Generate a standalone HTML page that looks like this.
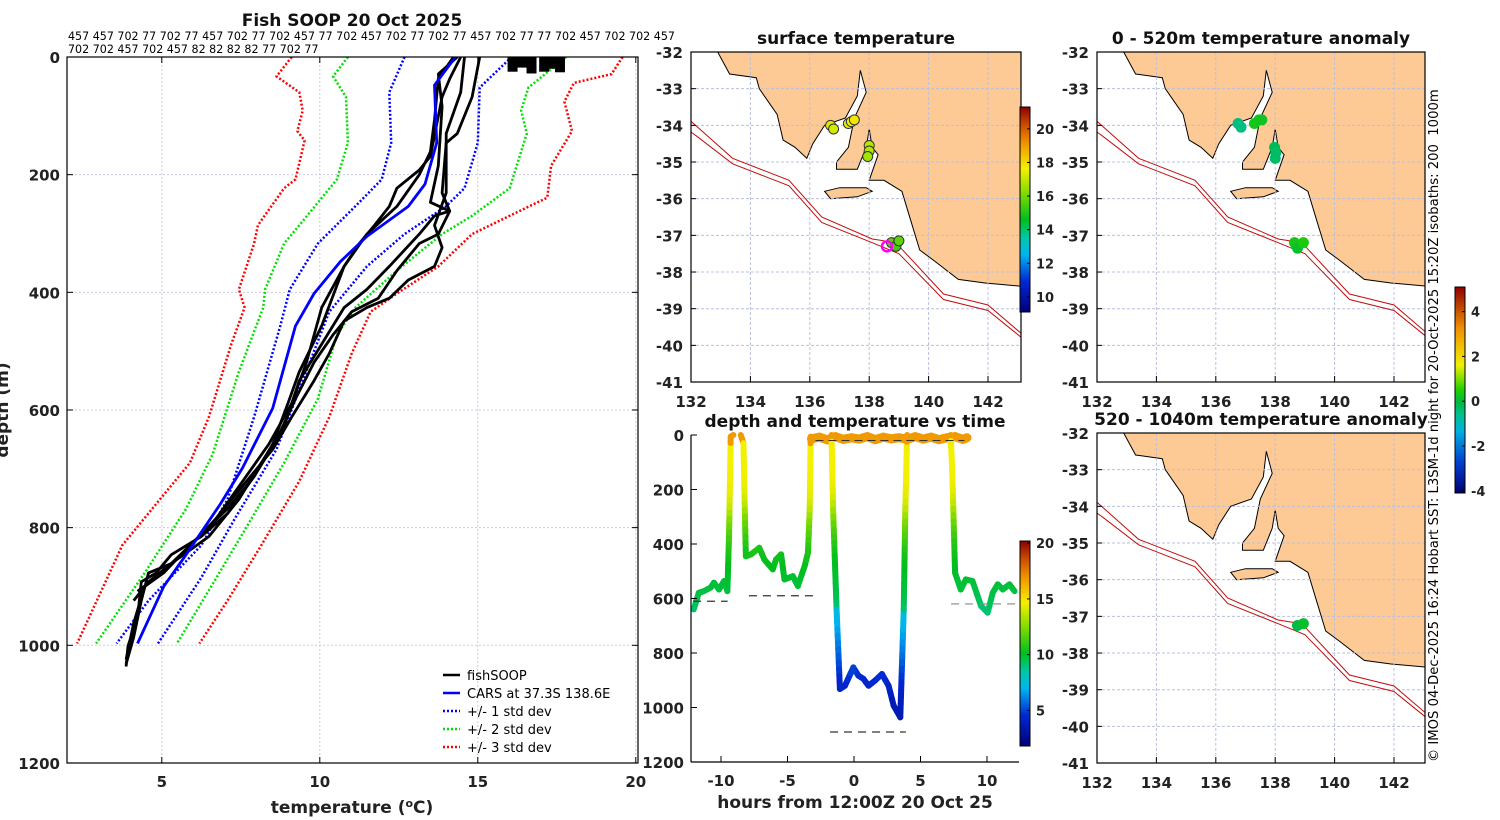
<!DOCTYPE html>
<html><head><meta charset="utf-8">
<style>
html,body{margin:0;padding:0;background:#fff;}
svg{display:block;font-family:"DejaVu Sans","Liberation Sans",sans-serif;}
.tk{font-size:15px;font-weight:bold;fill:#222;}
.ttl{font-size:17px;font-weight:bold;fill:#111;}
.pl{font-weight:normal;}
</style></head>
<body>
<svg id="fig" width="1500" height="820" viewBox="0 0 1500 820" xmlns="http://www.w3.org/2000/svg">
<defs>
<linearGradient id="jet" x1="0" y1="1" x2="0" y2="0">
<stop offset="0" stop-color="#00007a"/><stop offset="0.15" stop-color="#0028d2"/><stop offset="0.28" stop-color="#00b4f0"/><stop offset="0.36" stop-color="#00c8aa"/><stop offset="0.45" stop-color="#00be1e"/><stop offset="0.58" stop-color="#82dc00"/><stop offset="0.7" stop-color="#f5f000"/><stop offset="0.82" stop-color="#f09600"/><stop offset="0.92" stop-color="#c84600"/><stop offset="1" stop-color="#8c0000"/>
</linearGradient>
<linearGradient id="anom" x1="0" y1="1" x2="0" y2="0">
<stop offset="0" stop-color="#000070"/><stop offset="0.15" stop-color="#0040d0"/><stop offset="0.3" stop-color="#00b0e0"/><stop offset="0.38" stop-color="#00c090"/><stop offset="0.44" stop-color="#00b840"/><stop offset="0.5" stop-color="#20d000"/><stop offset="0.62" stop-color="#f0f000"/><stop offset="0.8" stop-color="#f09000"/><stop offset="1" stop-color="#900000"/>
</linearGradient>
<clipPath id="cpS"><rect x="691" y="52" width="330" height="330"/></clipPath>
<clipPath id="cpA"><rect x="1097" y="52" width="328" height="330"/></clipPath>
<clipPath id="cpB"><rect x="1097" y="433" width="328" height="330"/></clipPath>
<clipPath id="cpP"><rect x="67" y="57" width="571" height="706"/></clipPath>
<clipPath id="cpT"><rect x="691" y="430" width="328" height="332"/></clipPath>
</defs>
</svg>
<script>
// ---------- profile data (temperature degC, depth m) ----------
const carsT=[14.29,13.63,13.7,13.33,12.8,11.49,10.65,9.82,9.23,8.51,7.56,6.85,5.77,5.06,4.23];
const carsD=[0,48,146,216,254,305,348,402,457,597,698,760,846,900,997];
const sd1LT=[12.68,12.2,12.26,11.96,11.25,9.94,9.05,8.75,7.92,7.08,6.25,4.58,3.57];
const sd1LD=[0,60,146,208,247,317,395,457,612,752,830,924,997];
const sd1RT=[16.07,15.06,15.0,14.58,13.99,12.68,11.49,10.3,9.46,8.63,7.32,6.25,4.88];
const sd1RD=[0,52,146,223,254,301,356,433,550,667,784,885,997];
const sd2LT=[10.89,10.42,10.83,10.89,10.54,9.35,8.87,8.27,8.21,7.44,6.61,5.77,4.46,2.92];
const sd2LD=[0,33,68,146,208,286,317,395,426,535,675,768,877,997];
const sd2RT=[17.8,16.6,16.37,16.55,16.01,14.82,13.87,12.44,11.13,10.54,9.94,8.87,7.68,6.73,5.48];
const sd2RD=[0,52,91,130,223,270,301,363,426,472,581,690,799,885,997];
const sd3LT=[9.11,8.63,9.35,9.46,9.29,9.52,9.23,8.87,8.04,7.92,7.44,7.62,7.2,6.49,5.89,4.94,3.75,2.32];
const sd3LD=[0,33,60,91,126,142,208,223,286,317,395,426,488,612,690,752,830,997];
const sd3RT=[19.58,19.23,18.04,17.74,17.98,17.32,17.2,16.01,14.82,13.75,12.44,11.61,11.01,10.3,9.35,8.15,7.08,6.19];
const sd3RD=[0,29,44,76,126,185,239,270,301,356,402,433,504,612,721,830,924,997];
const fAT=[14.23,13.75,13.63,13.5,13.15,12.44,11.49,10.77,10.06,9.35,8.99,8.51,7.92,7.08,6.25,5.3,4.82,4.35,4.23,3.93,3.87];
const fAD=[0,37,107,161,200,254,301,356,457,535,589,658,713,776,815,846,877,892,954,1001,1036];
const fBT=[15.06,14.82,14.35,14.0,13.87,14.11,13.75,13.15,12.44,11.85,11.01,10.42,9.82,9.23,8.63,7.92,7.08,5.89,5.06,4.46,4.11,3.87];
const fBD=[0,68,130,146,231,262,301,317,363,410,433,472,519,581,651,713,768,830,877,900,962,1024];
const fCT=[14.58,14.46,14.0,14.0,13.63,13.87,13.63,12.8,12.2,11.49,10.77,10.3,9.82,9.11,8.51,7.56,6.49,5.3,4.58,4.35,4.11,3.87];
const fCD=[0,60,130,231,286,324,356,379,410,426,449,504,550,612,667,729,799,861,877,924,986,1032];
const fDT=[14.35,13.75,13.87,13.75,13.5,14.11,13.63,13.15,12.2,11.49,10.77,10.06,9.35,8.87,8.15,7.44,6.49,5.3,4.58,4.11];
const fDD=[0,29,84,185,247,262,270,301,356,395,426,488,550,628,690,752,815,861,892,924];
const fET=[14.46,14.11,13.87,13.5,13.15,12.44,12.2,11.73,11.25,10.77,10.06,9.58,9.11,8.39,7.56,6.73,5.77,4.82,4.23];
const fED=[0,37,68,169,192,223,254,286,317,356,426,519,589,658,721,784,838,885,908];
const blobT=[16.1,16.4,16.7,17.1,17.4,17.6];
const blobD=[25,18,28,25,20,26];
const profXTicks=[5,10,15,20];
const profYTicks=[0,200,400,600,800,1000,1200];
const headerLine1="457 457 702 77 702 77 457 702 77 702 457 77 702 457 702 77 702 77 457 702 77 77 702 457 702 702 457";
const headerLine2="702 702 457 702 457 82 82 82 82 77 702 77";

// ---------- depth vs time data ----------
const dtHours=[-12.05,-11.67,-11.29,-10.78,-10.53,-10.15,-9.77,-9.52,-9.39,-9.27,-9.07];
const dtDepth=[640,579,573,560,542,567,536,573,359,6,0];
const dtHours2=[-8.51,-8.31,-8.21,-8.13,-7.75,-7.12,-6.74,-6.11,-5.86,-5.48,-5.23,-4.6,-4.22,-3.71,-3.46,-3.33,-3.26];
const dtDepth2=[0,30,274,445,438,414,457,493,457,438,530,518,554,481,432,274,6];
const dtHours3=[-1.69,-1.57,-1.31,-1.06,-0.68,-0.05,0.33,0.71,1.09,1.59,2.1,2.6,2.98,3.48,3.74,3.86,3.99];
const dtDepth3=[0,274,640,932,920,853,883,895,920,901,877,920,993,1036,640,274,0];
const dtHours4=[7.27,7.4,7.6,8.03,8.41,8.91,9.55,10.05,10.43,10.81,11.19,11.69,12.07];
const dtDepth4=[0,152,506,567,530,536,627,652,579,548,567,548,573];
const surfHours=[-3.2,-2.6,-2.0,-1.4,-0.8,-0.2,0.4,1.0,1.6,2.2,2.8,3.4,4.0,4.6,5.2,5.8,6.4,7.0,7.6,8.2,8.5];
const surfDepth=[14,8,18,6,16,10,15,6,17,8,14,10,16,6,15,8,17,10,6,16,10];
const bottomStart=[-12.1,-7.9,-1.8,7.3];
const bottomEnd=[-9.5,-3.0,3.9,12.5];
const bottomDepth=[610,590,1090,620];
const dtXTicks=[-10,-5,0,5,10];
const dtYTicks=[0,200,400,600,800,1000,1200];
const dtCbTicks=[5,10,15,20];

// ---------- map data ----------
const lonTicks=[132,134,136,138,140,142];
const latTicks=[-32,-33,-34,-35,-36,-37,-38,-39,-40,-41];
const landLon=[132.9,133.3,134.2,134.3,134.9,135.1,135.5,135.9,136.1,136.5,137.2,137.6,137.7,137.9,137.5,137.3,136.9,136.9,137.6,137.9,138.0,138.1,138.3,138.0,138.5,139.1,139.4,139.7,140.2,141.0,141.9,143.3,143.3];
const landLat=[-32,-32.6,-32.7,-33.0,-33.7,-34.4,-34.6,-34.9,-34.5,-34.0,-33.8,-33.2,-32.5,-33.1,-33.8,-34.6,-35.0,-35.2,-35.2,-34.6,-34.1,-34.6,-34.8,-35.5,-35.5,-35.8,-36.6,-37.4,-37.7,-38.2,-38.3,-38.4,-32];
const kiLon=[136.5,137.0,137.9,138.1,137.6,136.7];
const kiLat=[-35.8,-35.7,-35.7,-35.8,-35.95,-36.0];
const iso1Lon=[131.6,133.4,135.3,136.4,138.1,138.9,140.5,142.0,143.3];
const iso1Lat=[-33.6,-34.9,-35.5,-36.5,-37.1,-37.2,-38.6,-38.9,-39.8];
const iso2Lon=[131.6,132.2,133.4,135.3,136.4,138.1,139.0,140.5,142.0,143.3];
const iso2Lat=[-33.95,-34.3,-35.05,-35.65,-36.65,-37.2,-37.5,-38.75,-39.05,-39.9];
const sstLon=[136.7,136.8,137.3,137.4,137.5,138.0,138.0,137.95,138.75,138.9,139.0];
const sstLat=[-34.0,-34.1,-33.95,-33.9,-33.85,-34.55,-34.7,-34.85,-37.2,-37.3,-37.15];
const sstVal=[17.3,17.2,17.4,17.6,17.8,16.9,16.8,16.6,15.6,15.4,15.7];
const anomLon=[136.75,136.85,137.3,137.45,137.55,137.98,138.02,138.0,138.65,138.75,138.95];
const anomLat=[-33.95,-34.05,-33.95,-33.85,-33.85,-34.6,-34.75,-34.9,-37.2,-37.35,-37.2];
const anomVal=[-0.5,-0.5,0.3,0.3,0.2,-0.2,-0.3,-0.3,0.3,0.1,0.4];
const anom2Lon=[138.75,138.95];
const anom2Lat=[-37.25,-37.2];
const anom2Val=[-0.1,0.1];
const sstCbTicks=[10,12,14,16,18,20];
const anomCbTicks=[-4,-2,0,2,4];

const NS="http://www.w3.org/2000/svg";
const svg=document.getElementById('fig');
function el(tag,attrs,parent){const e=document.createElementNS(NS,tag);for(const k in attrs)e.setAttribute(k,attrs[k]);(parent||svg).appendChild(e);return e;}
function txt(x,y,s,cls,anchor,parent){const t=el('text',{x:x,y:y,'class':cls===undefined?'tk':cls,'text-anchor':anchor||'middle'},parent);t.textContent=s;return t;}
function grp(name,parent){const g=el('g',{},parent);return g;}
function interp(xs,ys,v){if(v<=xs[0])return ys[0];for(let i=1;i<xs.length;i++){if(v<=xs[i]){const f=(v-xs[i-1])/(xs[i]-xs[i-1]);return ys[i-1]+f*(ys[i]-ys[i-1]);}}return ys[ys.length-1];}
function ramp(st,f){f=Math.max(0,Math.min(1,f));for(let i=1;i<st.length;i++){if(f<=st[i][0]){const a=st[i-1],b=st[i],t=(f-a[0])/(b[0]-a[0]);return 'rgb('+[0,1,2].map(k=>Math.round(a[1][k]+t*(b[1][k]-a[1][k]))).join(',')+')';}}const l=st[st.length-1][1];return 'rgb('+l.join(',')+')';}
const jetStops=[[0,[0,0,122]],[0.15,[0,40,210]],[0.28,[0,180,240]],[0.36,[0,200,170]],[0.45,[0,190,30]],[0.58,[130,220,0]],[0.7,[245,240,0]],[0.82,[240,150,0]],[0.92,[200,70,0]],[1,[140,0,0]]];
const anomStops=[[0,[0,0,112]],[0.15,[0,64,208]],[0.3,[0,176,224]],[0.38,[0,192,144]],[0.44,[0,184,64]],[0.5,[32,208,0]],[0.62,[240,240,0]],[0.8,[240,144,0]],[1,[144,0,0]]];
function jet(f){return ramp(jetStops,f);}
function anomCol(v){return ramp(anomStops,(v+4.1)/9.2);}

// =========== PROFILE PANEL ===========
const pX=t=>67+(t-2)*31.6, pY=d=>57+d*0.5883;
const gp=grp('temperature-profile-panel');
txt(352,26,'Fish SOOP 20 Oct 2025','ttl','middle',gp);
const h1=txt(68,40,headerLine1,'pl','start',gp);h1.setAttribute('style','font-size:11.1px;fill:#000');
const h2=txt(68,53,headerLine2,'pl','start',gp);h2.setAttribute('style','font-size:11.1px;fill:#000');
profXTicks.forEach(t=>{el('line',{x1:pX(t),x2:pX(t),y1:57,y2:763,stroke:'#c8cce0','stroke-width':1,'stroke-dasharray':'2,2'},gp);el('line',{x1:pX(t),x2:pX(t),y1:763,y2:757,stroke:'#000'},gp);el('line',{x1:pX(t),x2:pX(t),y1:57,y2:63,stroke:'#000'},gp);const l=txt(pX(t),787,String(t),'tk','middle',gp);});
profYTicks.forEach(d=>{el('line',{x1:67,x2:638,y1:pY(d),y2:pY(d),stroke:'#c8cce0','stroke-width':1,'stroke-dasharray':'2,2'},gp);el('line',{x1:67,x2:73,y1:pY(d),y2:pY(d),stroke:'#000'},gp);el('line',{x1:632,x2:638,y1:pY(d),y2:pY(d),stroke:'#000'},gp);const l=txt(60,pY(d)+6,String(d),'tk','end',gp);});
const xt=txt(352,813,'','tk','middle',gp);xt.setAttribute('style','font-size:17px');
xt.innerHTML='temperature (<tspan dy="-6" font-size="11">o</tspan><tspan dy="6">C)</tspan>';
const yt=txt(0,0,'depth (m)','tk','middle',gp);yt.setAttribute('transform','translate(8,410) rotate(-90)');yt.setAttribute('style','font-size:17px');
const gpc=el('g',{'clip-path':'url(#cpP)'},gp);
function pline(T,D,col,w,dash,name){const pts=T.map((t,i)=>pX(t).toFixed(1)+','+pY(D[i]).toFixed(1)).join(' ');const p=el('polyline',{points:pts,fill:'none',stroke:col,'stroke-width':w,'stroke-linejoin':'round'},gpc);if(dash)p.setAttribute('stroke-dasharray',dash);}
pline(sd3LT,sd3LD,'#ff0000',2.5,'2,2','std3-left');pline(sd3RT,sd3RD,'#ff0000',2.5,'2,2','std3-right');
pline(sd2LT,sd2LD,'#00e000',2.5,'2,2','std2-left');pline(sd2RT,sd2RD,'#00e000',2.5,'2,2','std2-right');
pline(sd1LT,sd1LD,'#0000ff',2.5,'2,2','std1-left');pline(sd1RT,sd1RD,'#0000ff',2.5,'2,2','std1-right');
pline(fAT,fAD,'#000',2.8,null,'fishsoop-profile-a');pline(fBT,fBD,'#000',2.8,null,'fishsoop-profile-b');pline(fCT,fCD,'#000',2.8,null,'fishsoop-profile-c');pline(fDT,fDD,'#000',2.8,null,'fishsoop-profile-d');pline(fET,fED,'#000',2.8,null,'fishsoop-profile-e');
blobT.forEach((t,i)=>{const r=el('rect',{x:pX(t)-5,y:pY(0),width:10,height:pY(blobD[i])-pY(0),fill:'#000'},gpc);});
pline(carsT,carsD,'#0000ff',2.8,null,'cars-climatology');
el('rect',{x:67,y:57,width:571,height:706,fill:'none',stroke:'#000','stroke-width':1.2},gp);
// legend
const lg=grp('legend',gp);
const legItems=[['fishSOOP','#000',null],['CARS at 37.3S 138.6E','#0000ff',null],['+/- 1 std dev','#0000ff','2,2'],['+/- 2 std dev','#00e000','2,2'],['+/- 3 std dev','#ff0000','2,2']];
legItems.forEach((it,i)=>{const y=675+i*18;const g=el('g',{},lg);const ln=el('line',{x1:443,x2:460,y1:y,y2:y,stroke:it[1],'stroke-width':2.5},g);if(it[2])ln.setAttribute('stroke-dasharray',it[2]);const t=txt(467,y+5,it[0],'pl','start',g);t.setAttribute('style','font-size:13px;fill:#000');});

// =========== MAPS ===========
function drawMap(x0,y0,w,clip,name,title,dLon,dLat,dCol,ring){
  const g=grp(name);
  const mx=l=>x0+(l-132)*29.7, my=a=>y0+(-32-a)*36.67;
  const t=txt(x0+w/2,y0-8,title,'ttl','middle',g);
  const c=el('g',{'clip-path':'url(#'+clip+')'},g);
  el('rect',{x:x0,y:y0,width:w,height:330,fill:'#fff'},c);
  const lp=landLon.map((l,i)=>mx(l).toFixed(1)+','+my(landLat[i]).toFixed(1)).join(' ');
  const land=el('polygon',{points:lp,fill:'#fdca96',stroke:'#000','stroke-width':1},c);
  const kp=kiLon.map((l,i)=>mx(l).toFixed(1)+','+my(kiLat[i]).toFixed(1)).join(' ');
  const ki=el('polygon',{points:kp,fill:'#fdca96',stroke:'#000','stroke-width':1},c);
  lonTicks.forEach(l=>{if(l>132)el('line',{x1:mx(l),x2:mx(l),y1:y0,y2:y0+330,stroke:'#b8c0e0','stroke-dasharray':'3,2'},c);});
  latTicks.forEach(a=>{if(a<-32&&a>-41)el('line',{x1:x0,x2:x0+w,y1:my(a),y2:my(a),stroke:'#b8c0e0','stroke-dasharray':'3,2'},c);});
  [[iso1Lon,iso1Lat,'isobath-200m'],[iso2Lon,iso2Lat,'isobath-1000m']].forEach(s=>{const p=el('polyline',{points:s[0].map((l,i)=>mx(l).toFixed(1)+','+my(s[1][i]).toFixed(1)).join(' '),fill:'none',stroke:'#c01010','stroke-width':1},c);});
  dLon.forEach((l,i)=>{const d=el('circle',{cx:mx(l),cy:my(dLat[i]),r:5,fill:dCol(i),stroke:ring?'#333':dCol(i),'stroke-width':1},c);});
  el('rect',{x:x0,y:y0,width:w,height:330,fill:'none',stroke:'#000','stroke-width':1.2},g);
  lonTicks.forEach(l=>{el('line',{x1:mx(l),x2:mx(l),y1:y0+330,y2:y0+324,stroke:'#000'},g);txt(mx(l),y0+355,String(l),'tk','middle',g);});
  latTicks.forEach(a=>{el('line',{x1:x0,x2:x0+5,y1:my(a),y2:my(a),stroke:'#000'},g);txt(x0-8,my(a)+6,String(a),'tk','end',g);});
  return {g,mx,my};
}
const ms=drawMap(691,52,330,'cpS','surface-temperature-map','surface temperature',sstLon,sstLat,i=>jet((sstVal[i]-9.1)/12.2),true);
const ring=el('circle',{cx:ms.mx(138.6),cy:ms.my(-37.3),r:5,fill:'none',stroke:'#ff00ff','stroke-width':2.5},ms.g);
// sst colorbar
const scb=grp('sst-colorbar');
el('rect',{x:1020,y:107,width:10,height:205,fill:'url(#jet)',stroke:'#000','stroke-width':1},scb);
sstCbTicks.forEach(v=>{const y=312-(v-9.1)/12.2*205;el('line',{x1:1027,x2:1030,y1:y,y2:y,stroke:'#000'},scb);const t=txt(1036,y+5,String(v),'','start',scb);t.setAttribute('style','font-size:13px;font-weight:bold;fill:#222');});
drawMap(1097,52,328,'cpA','anomaly-0-520m-map','0 - 520m temperature anomaly',anomLon,anomLat,i=>anomCol(anomVal[i]),false);
drawMap(1097,433,328,'cpB','anomaly-520-1040m-map','520 - 1040m temperature anomaly',anom2Lon,anom2Lat,i=>anomCol(anom2Val[i]),false);
// anomaly colorbar
const acb=grp('anomaly-colorbar');
el('rect',{x:1455,y:287,width:10,height:206,fill:'url(#anom)',stroke:'#000','stroke-width':1},acb);
anomCbTicks.forEach(v=>{const y=493-(v+4.1)/9.2*206;el('line',{x1:1462,x2:1465,y1:y,y2:y,stroke:'#000'},acb);const t=txt(1471,y+5,String(v),'','start',acb);t.setAttribute('style','font-size:13px;font-weight:bold;fill:#222');});
const cr=txt(0,0,'© IMOS 04-Dec-2025 16:24 Hobart SST: L3SM-1d night for 20-Oct-2025 15:20Z isobaths: 200  1000m','pl','start');
cr.setAttribute('transform','translate(1438,762) rotate(-90)');cr.setAttribute('style','font-size:13.2px;fill:#000;white-space:pre');

// =========== DEPTH vs TIME ===========
const tX=h=>854+h*13.3, tY=d=>435+d*0.2725;
const gt=grp('depth-time-panel');
txt(855,427,'depth and temperature vs time','ttl','middle',gt);
const gtc=el('g',{'clip-path':'url(#cpT)'},gt);
function tempAt(d){return d<25?16.8:interp(carsD,carsT,d)+(d<650?1.0:-0.6);}
function trace(H,D,name,w){const g=el('g',{},gtc);
  for(let i=1;i<H.length;i++){const n=Math.max(2,Math.ceil(Math.abs(D[i]-D[i-1])/25));for(let k=0;k<n;k++){const a=k/n,b=(k+1)/n;const h1=H[i-1]+(H[i]-H[i-1])*a,h2=H[i-1]+(H[i]-H[i-1])*b,d1=D[i-1]+(D[i]-D[i-1])*a,d2=D[i-1]+(D[i]-D[i-1])*b;
    el('line',{x1:tX(h1),y1:tY(d1),x2:tX(h2),y2:tY(d2),stroke:jet((tempAt((d1+d2)/2)-1.8)/18.4),'stroke-width':w||6,'stroke-linecap':'round'},g);}}}
trace(surfHours,surfDepth,'surface-segment',9);
trace(dtHours,dtDepth,'dive-1');trace(dtHours2,dtDepth2,'dive-2');trace(dtHours3,dtDepth3,'dive-3');trace(dtHours4,dtDepth4,'dive-4');
bottomStart.forEach((s,i)=>{const l=el('line',{x1:tX(s),x2:tX(bottomEnd[i]),y1:tY(bottomDepth[i]),y2:tY(bottomDepth[i]),stroke:i==3?'#888':'#333','stroke-width':1.2,'stroke-dasharray':'8,6'},gtc);});
el('line',{x1:tX(-2.9),x2:tX(8.3),y1:tY(20),y2:tY(20),stroke:'#333','stroke-width':1,'stroke-dasharray':'8,5'},gtc);
el('line',{x1:691,x2:691,y1:435,y2:762,stroke:'#000','stroke-width':1.2},gt);
el('line',{x1:691,x2:1019,y1:762,y2:762,stroke:'#000','stroke-width':1.2},gt);
dtXTicks.forEach(h=>{el('line',{x1:tX(h),x2:tX(h),y1:762,y2:756,stroke:'#000'},gt);txt(tX(h),786,String(h),'tk','middle',gt);});
dtYTicks.forEach(d=>{el('line',{x1:691,x2:697,y1:tY(d),y2:tY(d),stroke:'#000'},gt);txt(684,tY(d)+6,String(d),'tk','end',gt);});
const tt=txt(855,808,'hours from 12:00Z 20 Oct 25','tk','middle',gt);tt.setAttribute('style','font-size:17px');
const tcb=grp('depth-time-colorbar',gt);
el('rect',{x:1020,y:541,width:10,height:205,fill:'url(#jet)',stroke:'#000','stroke-width':1},tcb);
dtCbTicks.forEach(v=>{const y=746-(v-1.8)/18.4*205;el('line',{x1:1027,x2:1030,y1:y,y2:y,stroke:'#000'},tcb);const t=txt(1036,y+5,String(v),'','start',tcb);t.setAttribute('style','font-size:13px;font-weight:bold;fill:#222');});
</script>
</body></html>
